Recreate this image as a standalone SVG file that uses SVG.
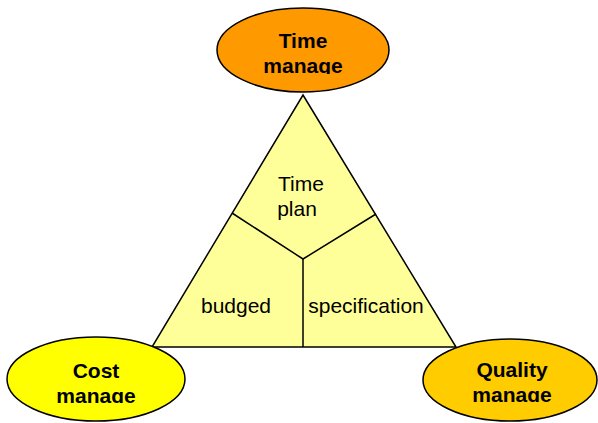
<svg xmlns="http://www.w3.org/2000/svg" width="598" height="423" viewBox="0 0 598 423">
<style>
.el{stroke:#000;stroke-width:1.5}
.bt{font-family:"Liberation Sans",Arial,sans-serif;font-weight:bold;font-size:21px;fill:#000;text-anchor:middle}
.nt{font-family:"Liberation Sans",Arial,sans-serif;font-size:21px;fill:#000;text-anchor:middle}
.ln{stroke:#000;stroke-width:1.5;fill:none}
</style>
<defs>
<clipPath id="cTime"><rect x="200" y="0" width="200" height="74"/></clipPath>
<clipPath id="cCost"><rect x="0" y="330" width="200" height="73"/></clipPath>
<clipPath id="cQual"><rect x="410" y="330" width="188" height="72"/></clipPath>
</defs>
<rect width="598" height="423" fill="#fff"/>
<g id="triangle">
<polygon points="303,95 456,347 152,347" fill="#FFFF99" stroke="#000" stroke-width="1.5"/>
</g>
<g id="connectors">
<polyline class="ln" points="232,213 303,259 376,214"/>
<line class="ln" x1="303" y1="259" x2="303" y2="347"/>
</g>
<g id="timeplan"><text class="nt" x="301" y="191">Time</text><text class="nt" x="297" y="216">plan</text></g>
<g id="budged"><text class="nt" x="236" y="313">budged</text></g>
<g id="specification"><text class="nt" x="366" y="313">specification</text></g>
<g id="time">
<ellipse class="el" cx="303" cy="50" rx="86" ry="42" fill="#FF9900"/>
<g clip-path="url(#cTime)"><text class="bt" x="303" y="48">Time</text><text class="bt" x="303" y="73">manage</text></g>
</g>
<g id="cost">
<ellipse class="el" cx="96" cy="379" rx="89" ry="42" fill="#FFFF00"/>
<g clip-path="url(#cCost)"><text class="bt" x="96" y="378">Cost</text><text class="bt" x="96" y="403">manage</text></g>
</g>
<g id="quality">
<ellipse class="el" cx="510" cy="380" rx="87" ry="41" fill="#FFCC00"/>
<g clip-path="url(#cQual)"><text class="bt" x="512" y="377">Quality</text><text class="bt" x="512" y="402">manage</text></g>
</g>
</svg>
